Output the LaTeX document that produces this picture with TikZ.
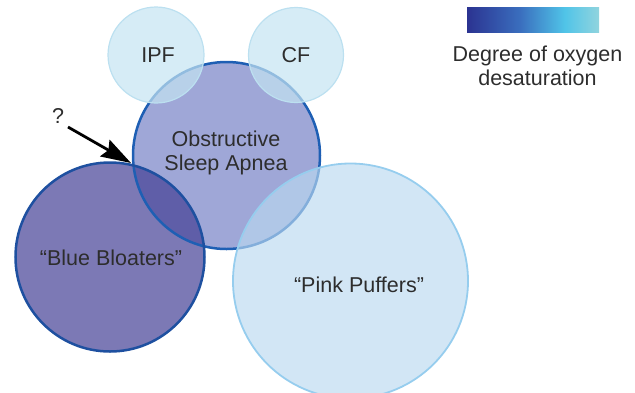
\documentclass[tikz,border=0pt]{standalone}
\usepackage{fontspec}
\setmainfont{Liberation Sans}
\usetikzlibrary{arrows.meta}

% palette
\definecolor{osafill}{RGB}{159,167,215}
\definecolor{osaline}{RGB}{30,95,180}
\definecolor{bbfill}{RGB}{69,64,149}
\definecolor{bbline}{RGB}{30,80,160}
\definecolor{ppfill}{RGB}{186,217,240}
\definecolor{ppline}{RGB}{150,205,238}
\definecolor{lungfill}{RGB}{196,228,242}
\definecolor{lungline}{RGB}{188,224,240}
\definecolor{txtcol}{RGB}{45,45,45}
\definecolor{desatA}{RGB}{43,51,145}
\definecolor{desatB}{RGB}{58,110,190}
\definecolor{desatC}{RGB}{80,196,232}
\definecolor{desatD}{RGB}{145,212,222}

% oxygen desaturation scale, dark (left) to light (right)
\pgfdeclarehorizontalshading{desat}{100bp}{%
  color(0bp)=(desatA); color(25bp)=(desatA); color(45bp)=(desatB);
  color(62bp)=(desatC); color(75bp)=(desatD); color(100bp)=(desatD)}

\begin{document}
\begin{tikzpicture}[x=1pt,y=-1pt,
  txt/.style={font=\fontsize{21.5}{24.5}\selectfont, text=txtcol, align=center, inner sep=0pt},
  strongring/.style={line width=2.5pt},
  softring/.style={line width=1.8pt},
  pointer/.style={line width=2.8pt, black, -{Stealth[length=30pt,width=19pt,inset=4pt]}}]
\useasboundingbox (0,0) rectangle (635,392);

% circle centres
\coordinate (osa) at (226.5,155.5);
\coordinate (bb)  at (110,257);
\coordinate (pp)  at (350.5,281);
\coordinate (ipf) at (156,55);
\coordinate (cf)  at (296,55);

% obstructive sleep apnea and blue bloaters
\fill[osafill] (osa) circle[radius=93.5pt];
\fill[bbfill, fill opacity=.7] (bb) circle[radius=94.5pt];
\draw[osaline, strongring] (osa) circle[radius=93.5pt];
\draw[bbline, strongring] (bb) circle[radius=94.5pt];

% pink puffers
\filldraw[fill=ppfill, fill opacity=.65, draw=ppline, softring] (pp) circle[radius=117.5pt];

% IPF and CF
\filldraw[fill=lungfill, fill opacity=.7, draw=lungline, line width=1.2pt] (ipf) circle[radius=48pt];
\filldraw[fill=lungfill, fill opacity=.7, draw=lungline, line width=1.2pt] (cf) circle[radius=47.5pt];

% labels
\node[txt] (ipft) at (158,55) {IPF};
\node[txt] (cft)  at (296,55) {CF};
\node[txt] (osat) at (226,153) {Obstructive\\Sleep Apnea};
\node[txt] (bbt)  at (111,258) {“Blue Bloaters”};
\node[txt] (ppt)  at (359,285) {“Pink Puffers”};
\node[txt] (q)    at (58,116) {?};

% legend
\node[inner sep=0pt, minimum width=132pt, minimum height=25pt, shading=desat] (bar) at (533,19.5) {};
\node[txt] (legt) at (537.5,66) {Degree of oxygen\\desaturation};

% arrow towards the OSA / blue bloaters intersection
\coordinate (tail) at (68,127);
\coordinate (tip)  at (131,163);
\draw[pointer] (tail) -- (tip);
\end{tikzpicture}
\end{document}
